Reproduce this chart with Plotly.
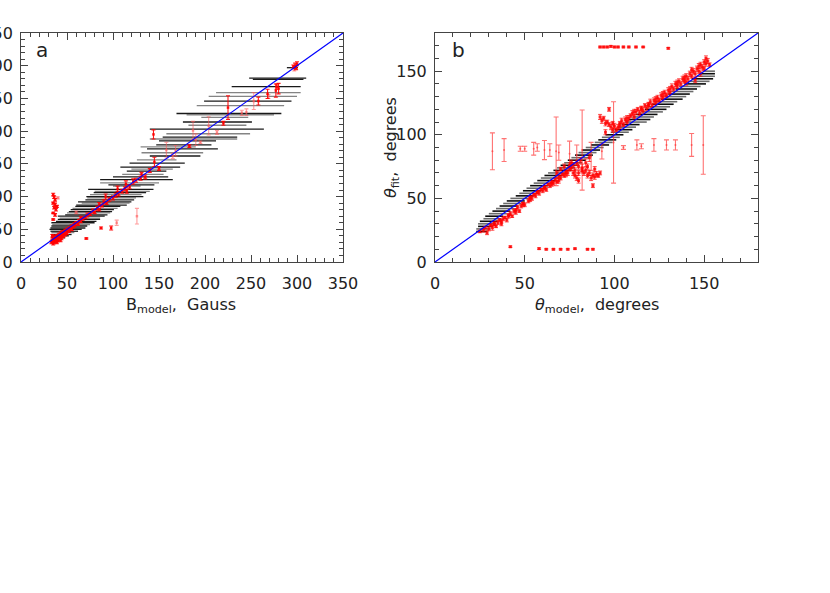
import plotly.graph_objects as go

# ---------------- Panel a data ----------------
# horizontal (x-error) bars: y value, x low, x high, shade (k=black, g=gray)
a_bar_y = [297, 281, 279, 268, 259, 253, 246, 239, 227, 225, 221, 214, 209, 203, 196, 191, 188, 185,
           179, 176, 173, 167, 162, 156, 151, 145, 142, 139, 134, 130, 126, 121, 118, 116, 111, 108,
           106, 103, 100, 98, 95, 92, 90, 87, 85, 82, 80, 77, 75, 72, 70, 67, 65, 62, 60, 57, 55,
           52, 50, 47, 45, 42, 40, 37]
a_bar_lo = [289, 248, 252, 229, 212, 204, 199, 191, 169, 180, 196, 176, 182, 140, 158, 154, 140, 150,
            147, 130, 137, 131, 140, 126, 118, 108, 120, 115, 110, 100, 86, 86, 95, 100, 73, 80,
            79, 75, 71, 72, 70, 62, 66, 60, 59, 56, 54, 52, 50, 48, 40, 42, 40, 38, 33, 34, 33,
            32, 31, 32, 33, 33, 33, 33]
a_bar_hi = [301, 310, 307, 304, 304, 300, 294, 286, 283, 275, 247, 251, 245, 264, 249, 235, 235, 212,
            207, 190, 214, 198, 195, 169, 178, 173, 165, 158, 155, 160, 165, 150, 145, 130, 144, 140,
            136, 131, 133, 125, 123, 120, 118, 115, 108, 105, 101, 99, 97, 94, 91, 86, 86, 82, 80, 75, 72,
            70, 66, 62, 58, 55, 52, 48]
a_bar_shade = ["k", "k", "k", "k", "g", "g", "k", "g", "k", "g", "g", "k", "g", "k", "g", "k", "g", "k",
               "k", "g", "k", "g", "k", "g", "k", "k", "g", "k", "g", "k", "k", "g", "k", "g", "k", "g",
               "k", "g", "k", "g", "k", "k", "g", "k", "k", "g", "k", "k", "g", "k", "k", "g", "k", "k",
               "k", "g", "k", "k", "k", "k", "g", "k", "k", "k"]

# red fit points with vertical error bars: x, y, error, strong(s)/light(l)
a_red_x = [298, 299, 297, 300, 296, 277, 280, 278, 268, 269, 258, 253, 245, 240, 225, 220, 213, 204,
           187, 190, 195, 183, 168, 158, 144, 165, 145, 150, 131, 122, 114, 126, 104, 98, 87, 71, 60,
           35, 36, 37, 35, 37, 36, 38, 35, 37, 35, 40, 39,
           35, 36, 37, 38, 39, 40, 41, 42, 43, 44, 45, 46, 47, 48, 50, 52, 53, 55, 57, 58, 60, 62,
           63, 65, 67, 70, 72, 75, 78, 80, 83, 85, 88, 90, 93, 96, 100, 103, 106, 110, 113, 118,
           125, 130, 135, 140, 33, 34, 36, 38, 40, 44, 48, 55, 65, 85, 92, 105, 115,
           34, 35, 37, 39, 41, 43, 46, 50, 52, 58, 62, 68]
a_red_y = [300, 297, 294, 303, 299, 262, 265, 268, 257, 253, 246, 246, 229, 228, 236, 212, 198, 208,
           201, 187, 183, 177, 170, 171, 195, 162, 153, 143, 134, 123, 119, 70, 60, 52, 52, 36, 76,
           103, 99, 95, 90, 88, 83, 80, 75, 72, 65, 98, 85,
           35, 38, 32, 36, 40, 35, 42, 38, 44, 40, 46, 42, 45, 48, 50, 47, 52, 55, 54, 58, 60, 58,
           63, 62, 66, 68, 72, 73, 78, 76, 82, 88, 86, 92, 90, 96, 98, 102, 104, 108, 112, 115,
           125, 128, 130, 140, 30, 33, 30, 33, 32, 36, 42, 50, 68, 80, 100, 112, 108,
           40, 28, 34, 30, 38, 33, 39, 44, 50, 56, 64, 64]
a_red_e = [4, 3, 2, 3, 2, 10, 8, 4, 7, 3, 6, 13, 5, 4, 18, 3, 3, 14,
           14, 9, 2, 2, 8, 12, 7, 4, 7, 3, 3, 4, 5, 12, 4, 3, 1.5, 1, 2,
           2, 2, 2, 1.5, 2, 2, 2, 1, 2, 1, 1.5, 1.5,
           2, 3, 2, 2, 2, 2, 2, 2, 2, 3, 2, 2, 2, 2, 2, 2, 2, 2, 2, 2, 2, 2,
           2, 2, 2, 2, 3, 2, 3, 2, 3, 3, 2, 3, 2, 3, 3, 3, 3, 3, 3, 3,
           3, 3, 3, 3, 2, 2, 2, 2, 1, 2, 2, 2, 2, 2, 4, 4, 3,
           2, 2, 2, 2, 2, 2, 2, 2, 2, 2, 2, 2]
a_red_kind = ["s", "s", "l", "s", "s", "s", "s", "s", "s", "l", "s", "l", "l", "l", "s", "s", "l", "l",
              "l", "l", "l", "s", "l", "l", "s", "l", "s", "s", "s", "s", "s", "l", "l", "s", "s", "s", "l",
              "s", "s", "s", "s", "s", "s", "s", "s", "s", "s", "l", "s",
              "s", "s", "s", "s", "s", "s", "s", "s", "s", "s", "s", "s", "s", "s", "s", "s", "s", "s",
              "s", "s", "s", "s", "s", "s", "s", "s", "s", "s", "s", "s", "s", "s", "s", "s", "s", "s",
              "s", "s", "s", "s", "s", "s", "s", "s", "s", "s", "s", "s", "s", "s", "s", "s", "s", "s",
              "s", "s", "s",
              "s", "s", "s", "s", "s", "s", "s", "s", "s", "s", "s", "s"]

# ---------------- Panel b data ----------------
# black horizontal bars: y value, x centre, half width, shade
b_bar_y = [24, 26, 28, 30, 32, 34, 36, 38, 40, 42, 44, 46, 48, 50, 52, 54, 56, 58, 60, 62, 64, 66, 68,
           70, 72, 74, 76, 78, 80, 82, 84, 86, 88, 90, 92, 94, 96, 98, 100, 102, 104, 106, 108, 110,
           112, 114, 116, 118, 120, 122, 124, 126, 128, 130, 132, 134, 136, 138, 140, 142, 144, 146,
           148, 150]
b_bar_c = [26, 27, 28, 29, 30, 32, 33, 35, 37, 39, 41, 43, 45, 47, 50, 52, 54, 56, 58, 60, 62, 64, 66,
           68, 71, 73, 75, 77, 79, 81, 83, 85, 87, 89, 92, 94, 96, 98, 100, 103, 105, 107, 109, 112,
           114, 116, 118, 121, 123, 125, 127, 129, 132, 134, 136, 138, 140, 142, 145, 147, 149, 151,
           152, 153]
b_bar_h = [3, 4, 4, 5, 5, 5, 5, 5, 5, 5, 5, 5, 5, 5, 5, 5, 5, 5, 5, 5, 5, 5, 5,
           5, 5, 5, 5, 5, 5, 5, 5, 5, 5, 5, 5, 5, 5, 5, 5, 5, 5, 5, 5, 6,
           6, 6, 6, 6, 6, 6, 6, 6, 6, 6, 6, 6, 6, 6, 6, 6, 6, 5,
           4, 3]
b_bar_shade = ["k", "g"] * 32

# red fit points (dense band and outlier rows): x, y, error
b_red_x = [25, 27, 28, 30, 31, 32, 33, 34, 35, 36, 37, 38, 39, 40, 41, 42, 43, 44, 45, 46, 47, 48, 49,
           50, 52, 53, 54, 55, 56, 57, 58, 59, 60, 61, 62, 63, 64, 65, 66, 67, 68, 69, 70, 71, 72,
           73, 74, 75, 76, 77, 78, 79, 80, 81, 82, 83, 84, 85, 86, 87, 88, 89, 90, 91, 92, 78, 80,
           75, 72, 70, 68, 84, 86, 88, 80, 77,
           92, 93, 94, 95, 96, 97, 98, 99, 100, 101, 102, 103, 104, 105, 106, 107, 108, 109, 110,
           111, 112, 113, 114, 115, 116, 117, 118, 119, 120, 121, 122, 123, 124, 125, 126, 127,
           128, 129, 130, 131, 132, 133, 134, 135, 136, 137, 138, 139, 140, 141, 142, 143, 144,
           145, 146, 147, 148, 149, 150, 151, 152, 150, 153, 148, 145, 140, 97,
           29, 33, 37, 41, 45, 49, 53, 57, 61, 65, 69, 73, 76, 79, 82, 85, 89,
           95, 99, 103, 107, 111, 115, 119, 123, 127, 131, 135, 139, 143, 147, 151,
           92, 94, 96, 98, 100, 102, 105, 108, 112, 116, 130,
           42, 58, 62, 66, 70, 74, 78, 85, 88]
b_red_y = [24, 25, 27, 26, 29, 27, 30, 28, 31, 33, 30, 34, 35, 33, 37, 38, 36, 40, 41, 43, 40, 44, 46,
           45, 48, 51, 50, 53, 52, 55, 54, 57, 56, 59, 57, 61, 60, 63, 62, 65, 63, 67, 66, 69, 68,
           71, 70, 73, 74, 76, 72, 78, 75, 80, 74, 70, 72, 68, 70, 66, 68, 67, 69, 68, 70, 68, 70,
           76, 75, 73, 70, 78, 82, 60, 64, 70,
           114, 111, 113, 109, 110, 108, 106, 109, 107, 104, 106, 109, 111, 108, 112, 110, 113, 115,
           117, 114, 118, 120, 117, 121, 119, 123, 121, 124, 126, 123, 127, 125, 129, 127, 131, 129,
           133, 131, 135, 133, 138, 136, 140, 138, 142, 140, 144, 142, 146, 144, 148, 146, 150,
           148, 152, 150, 155, 153, 157, 160, 158, 152, 155, 148, 143, 141, 120,
           23, 30, 32, 36, 39, 45, 49, 55, 58, 61, 64, 69, 78, 66, 72, 75, 73,
           102, 104, 107, 113, 118, 120, 123, 128, 132, 136, 141, 145, 151, 154, 156,
           169, 169, 169, 169.5, 169, 169, 169, 169, 169, 169, 168,
           12, 10.5, 10, 10, 10, 10, 10.5, 10, 10]
b_red_e = [1, 1.5, 1, 1.5, 1, 2, 1.5, 1, 1.5, 1, 1.5, 1.5, 1, 1.5, 1, 1.5, 1, 1.5, 1, 1.5, 1, 1.5, 1,
           1.5, 1.5, 1, 1.5, 1, 1.5, 1, 1.5, 1, 1.5, 1, 1.5, 1, 1.5, 1, 1.5, 1.5, 1, 1.5, 1.5, 1, 1.5,
           1.5, 2, 1.5, 2, 2, 2, 2, 2, 2, 3, 2, 2, 2, 2, 2, 2, 2, 2, 1.5, 1.5, 2, 2,
           2, 2, 1.5, 1.5, 3, 3, 1.5, 2, 2,
           2, 2, 1.5, 2, 1.5, 1.5, 2, 1.5, 2, 1.5, 2, 1.5, 2, 1.5, 2, 1.5, 2, 1.5, 2,
           1.5, 2, 1.5, 2, 1.5, 2, 1.5, 2, 1.5, 2, 1.5, 2, 1.5, 2, 1.5, 2, 1.5,
           2, 1.5, 2, 1.5, 2, 1.5, 2, 1.5, 2, 1.5, 2, 1.5, 2, 2, 2, 1.5, 2,
           2, 2, 2, 2, 2, 2, 2, 2, 1.5, 1.5, 2, 2, 2, 1.5,
           1.5, 1.5, 1.5, 1.5, 1.5, 1.5, 1.5, 1.5, 1.5, 1.5, 2, 2, 2, 2, 2, 2, 2,
           2, 2, 2, 2, 2, 2, 2, 2, 2, 2, 2, 2, 2, 2, 2,
           0.6, 0.6, 0.6, 0.6, 0.6, 0.6, 0.6, 0.6, 0.6, 0.5, 0.6,
           0.6, 0.6, 0.5, 0.5, 0.5, 0.5, 0.5, 0.5, 0.5]

# large uncertain red points near 90 degrees: x, y, error
b_big_x = [32, 38.5, 47.5, 50, 55, 57, 61, 64, 67.5, 69, 75, 79, 82, 87, 93, 99.5, 105, 112.5, 115,
           122, 129, 134, 143, 149.5]
b_big_y = [87, 88, 89, 89, 89, 90, 88, 88, 87, 86, 85, 84, 88, 83, 87, 94, 90, 92, 91, 92, 92, 92, 92, 92]
b_big_e = [14.5, 9, 2, 2, 5, 3, 7.5, 5, 27, 6, 10, 8, 31.5, 11, 6, 32, 1.5, 4, 2, 5, 4, 4, 9, 23]

a_range = [0, 350]
b_range = [0, 180]

W, H = 830, 593


def px_x(p):
    return p / W


def px_y(p):
    return 1 - p / H


fig = go.Figure()


def segs(ys, los, his):
    xs, yy = [], []
    for y, lo, hi in zip(ys, los, his):
        xs += [lo, hi, None]
        yy += [y, y, None]
    return xs, yy


# panel a black / gray horizontal bars
for shade, col in (("g", "rgba(110,110,110,0.85)"), ("k", "rgba(0,0,0,0.9)")):
    sel = [i for i, s in enumerate(a_bar_shade) if s == shade]
    xs, yy = segs([a_bar_y[i] for i in sel], [a_bar_lo[i] for i in sel], [a_bar_hi[i] for i in sel])
    fig.add_trace(go.Scatter(x=xs, y=yy, mode="lines", line=dict(color=col, width=1.3),
                             hoverinfo="skip", showlegend=False, xaxis="x", yaxis="y"))

# panel a red points
for kind, col in (("l", "rgba(255,90,90,0.6)"), ("s", "rgba(255,0,0,0.9)")):
    sel = [i for i, k in enumerate(a_red_kind) if k == kind]
    fig.add_trace(go.Scatter(
        x=[a_red_x[i] for i in sel], y=[a_red_y[i] for i in sel], mode="markers",
        marker=dict(size=2.5, color=col, symbol="square"),
        error_y=dict(type="data", array=[a_red_e[i] for i in sel], color=col, thickness=1.1, width=2),
        hoverinfo="skip", showlegend=False, xaxis="x", yaxis="y"))

# diagonal a
fig.add_trace(go.Scatter(x=a_range, y=a_range, mode="lines", line=dict(color="#0000ff", width=1.2),
                         hoverinfo="skip", showlegend=False, xaxis="x", yaxis="y"))

# panel b black bars
for shade, col in (("g", "rgba(70,70,70,0.8)"), ("k", "rgba(0,0,0,0.95)")):
    sel = [i for i, s in enumerate(b_bar_shade) if s == shade]
    xs, yy = segs([b_bar_y[i] for i in sel],
                  [b_bar_c[i] - b_bar_h[i] for i in sel],
                  [b_bar_c[i] + b_bar_h[i] for i in sel])
    fig.add_trace(go.Scatter(x=xs, y=yy, mode="lines", line=dict(color=col, width=1.6),
                             hoverinfo="skip", showlegend=False, xaxis="x2", yaxis="y2"))

# panel b red points
fig.add_trace(go.Scatter(
    x=b_big_x, y=b_big_y, mode="markers", marker=dict(size=2, color="rgba(255,60,60,0.7)"),
    error_y=dict(type="data", array=b_big_e, color="rgba(255,40,40,0.65)", thickness=1.1, width=2.5),
    hoverinfo="skip", showlegend=False, xaxis="x2", yaxis="y2"))
fig.add_trace(go.Scatter(
    x=b_red_x, y=b_red_y, mode="markers", marker=dict(size=3, color="rgba(255,0,0,0.8)", symbol="square"),
    error_y=dict(type="data", array=b_red_e, color="rgba(255,0,0,0.7)", thickness=1, width=2),
    hoverinfo="skip", showlegend=False, xaxis="x2", yaxis="y2"))

# diagonal b
fig.add_trace(go.Scatter(x=b_range, y=b_range, mode="lines", line=dict(color="#0000ff", width=1.2),
                         hoverinfo="skip", showlegend=False, xaxis="x2", yaxis="y2"))

FONT = "DejaVu Sans"
tickfont = dict(family=FONT, size=16, color="#222")


def ax(domain, rng, anchor, standoff):
    return dict(domain=domain, range=rng, anchor=anchor, tick0=0, dtick=50, ticks="inside",
                ticklen=7, tickwidth=1, tickcolor="#444", mirror="allticks", showline=True,
                linecolor="#444", linewidth=1, showgrid=False, zeroline=False, tickfont=tickfont,
                minor=dict(ticks="inside", dtick=10, ticklen=4, tickcolor="#444", showgrid=False),
                automargin=False, ticklabelstandoff=standoff, fixedrange=True)


def note(text, x, y, size=16, angle=0):
    return dict(text=text, x=px_x(x), y=px_y(y), xref="paper", yref="paper", showarrow=False,
                xanchor="center", yanchor="middle", textangle=angle,
                font=dict(family=FONT, size=size, color="#222"))


ydom = [px_y(262), px_y(33)]
fig.update_layout(
    width=W, height=H, margin=dict(l=0, r=0, t=0, b=0),
    paper_bgcolor="white", plot_bgcolor="white",
    xaxis=ax([px_x(21), px_x(343)], a_range, "y", 7),
    yaxis=ax(ydom, a_range, "x", 4),
    xaxis2=ax([px_x(435), px_x(758)], b_range, "y2", 7),
    yaxis2=ax(ydom, b_range, "x2", 4),
    font=dict(family=FONT, color="#222"),
    annotations=[
        note("a", 42, 50, size=20),
        note("b", 458, 50, size=20),
        note("B<sub>model</sub>,  Gauss", 181, 305),
        note("<i>θ</i><sub>model</sub>,  degrees", 597, 305),
        note("<i>θ</i><sub>fit</sub>,  degrees", 391, 148, angle=-90),
    ],
)

fig.write_html("out.html", post_script="document.body.style.margin='0';",
               config={"displayModeBar": False})
